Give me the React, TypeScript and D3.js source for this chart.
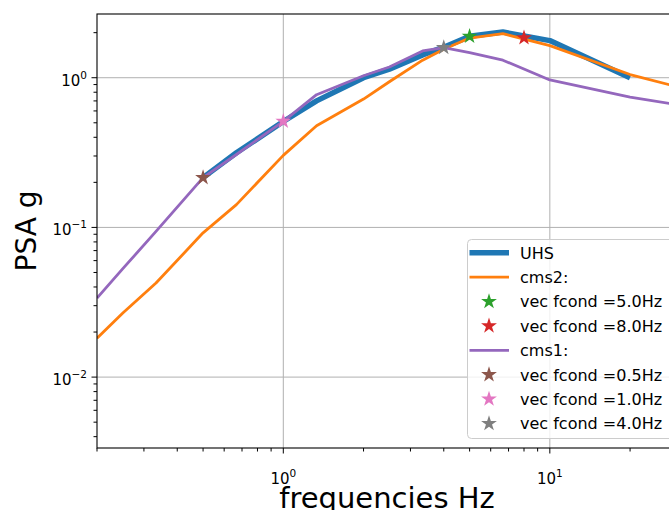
import React, { useRef, useEffect } from 'react';
import * as d3 from 'd3';

// periods / frequencies used by the spectra
const freqs = [0.2, 0.25, 0.333, 0.5, 0.667, 1, 1.333, 2, 2.5, 3.333, 4, 5, 6.667, 10, 20, 33.3];
const uhsFreqs = [0.5, 0.667, 1, 1.333, 2, 2.5, 3.333, 4, 5, 6.667, 10, 20];
const uhsValues = [0.215, 0.315, 0.51, 0.7, 1.0, 1.14, 1.42, 1.6, 1.89, 2.02, 1.77, 1.0];
const cms2Values = [0.0182, 0.0268, 0.0425, 0.092, 0.142, 0.303, 0.478, 0.72, 0.94, 1.31, 1.55, 1.84, 1.97, 1.64, 1.05, 0.83];
const cms1Values = [0.0337, 0.053, 0.094, 0.215, 0.307, 0.511, 0.77, 1.03, 1.18, 1.51, 1.59, 1.47, 1.31, 0.966, 0.743, 0.64];

// conditioning stars
const cms2Fcond = [5.0, 8.0];
const cms2Star = [1.89, 1.85];
const cms2StarColors = ['#2ca02c', '#d62728'];
const cms1Fcond = [0.5, 1.0, 4.0];
const cms1Star = [0.215, 0.511, 1.59];
const cms1StarColors = ['#8c564b', '#e377c2', '#7f7f7f'];

const xTicks = [1, 10];
const yTicks = [0.01, 0.1, 1];

const W = 669;
const H = 510;
const margin = { left: 97, top: 14, right: 677, bottom: 448 };
const font = 'DejaVu Sans, sans-serif';

function Chart() {
  const svgRef = useRef<SVGSVGElement>(null);

  useEffect(() => {
    const svg = d3.select(svgRef.current);
    svg.selectAll('*').remove();

    const x = d3.scaleLog().domain([0.2, 30]).range([margin.left, margin.right]);
    const y = d3.scaleLog().domain([0.00336, 2.665]).range([margin.bottom, margin.top]);

    const defs = svg.append('defs');
    defs.append('clipPath').attr('id', 'plot')
      .append('rect')
      .attr('x', margin.left).attr('y', margin.top)
      .attr('width', margin.right - margin.left).attr('height', margin.bottom - margin.top);

    // grid
    const grid = svg.append('g').attr('stroke', '#b0b0b0').attr('stroke-width', 1);
    xTicks.forEach(t => grid.append('line')
      .attr('x1', x(t)).attr('x2', x(t)).attr('y1', margin.top).attr('y2', margin.bottom));
    yTicks.forEach(t => grid.append('line')
      .attr('x1', margin.left).attr('x2', margin.right).attr('y1', y(t)).attr('y2', y(t)));

    const plot = svg.append('g').attr('clip-path', 'url(#plot)');
    const line = d3.line<[number, number]>().x(d => x(d[0])).y(d => y(d[1]));
    const star = d3.symbol().type(d3.symbolStar).size(78);

    plot.append('path')
      .attr('d', line(uhsFreqs.map((f, i) => [f, uhsValues[i]])))
      .attr('fill', 'none').attr('stroke', '#1f77b4').attr('stroke-width', 5.5)
      .attr('stroke-linejoin', 'round');
    plot.append('path')
      .attr('d', line(freqs.map((f, i) => [f, cms2Values[i]])))
      .attr('fill', 'none').attr('stroke', '#ff7f0e').attr('stroke-width', 2.8)
      .attr('stroke-linejoin', 'round');
    cms2Fcond.forEach((f, i) => plot.append('path')
      .attr('d', star()).attr('transform', `translate(${x(f)},${y(cms2Star[i])})`)
      .attr('fill', cms2StarColors[i]));
    plot.append('path')
      .attr('d', line(freqs.map((f, i) => [f, cms1Values[i]])))
      .attr('fill', 'none').attr('stroke', '#9467bd').attr('stroke-width', 2.8)
      .attr('stroke-linejoin', 'round');
    cms1Fcond.forEach((f, i) => plot.append('path')
      .attr('d', star()).attr('transform', `translate(${x(f)},${y(cms1Star[i])})`)
      .attr('fill', cms1StarColors[i]));

    // spines
    svg.append('rect')
      .attr('x', margin.left).attr('y', margin.top)
      .attr('width', margin.right - margin.left).attr('height', margin.bottom - margin.top)
      .attr('fill', 'none').attr('stroke', '#000').attr('stroke-width', 1.1);

    // x ticks
    const xMinor: number[] = [];
    for (let d = 0.1; d <= 10; d *= 10) for (let k = 2; k <= 9; k++) {
      const v = k * d;
      if (v >= 0.2 && v <= 30) xMinor.push(v);
    }
    const tk = svg.append('g').attr('stroke', '#000').attr('stroke-width', 1);
    xMinor.forEach(v => tk.append('line')
      .attr('x1', x(v)).attr('x2', x(v)).attr('y1', margin.bottom).attr('y2', margin.bottom + 3.5));
    xTicks.forEach(v => tk.append('line')
      .attr('x1', x(v)).attr('x2', x(v)).attr('y1', margin.bottom).attr('y2', margin.bottom + 5.5));

    const yMinor: number[] = [];
    for (let d = 0.001; d <= 1; d *= 10) for (let k = 2; k <= 9; k++) {
      const v = k * d;
      if (v >= 0.00336 && v <= 2.665) yMinor.push(v);
    }
    yMinor.forEach(v => tk.append('line')
      .attr('x1', margin.left - 3.5).attr('x2', margin.left).attr('y1', y(v)).attr('y2', y(v)));
    yTicks.forEach(v => tk.append('line')
      .attr('x1', margin.left - 5.5).attr('x2', margin.left).attr('y1', y(v)).attr('y2', y(v)));

    const exp = (v: number) => Math.round(Math.log10(v)).toString().replace('-', '\u2212');

    xTicks.forEach(v => {
      const t = svg.append('text')
        .attr('x', x(v)).attr('y', margin.bottom + 36)
        .attr('text-anchor', 'middle')
        .attr('font-family', font).attr('font-size', 15).attr('fill', '#000');
      t.append('tspan').text('10');
      t.append('tspan').attr('dy', -7).attr('font-size', 10.5).text(exp(v));
    });
    yTicks.forEach(v => {
      const t = svg.append('text')
        .attr('x', margin.left - 10).attr('y', y(v) + 8)
        .attr('text-anchor', 'end')
        .attr('font-family', font).attr('font-size', 15).attr('fill', '#000');
      t.append('tspan').text('10');
      t.append('tspan').attr('dy', -7).attr('font-size', 10.5).text(exp(v));
    });

    // axis labels
    svg.append('text')
      .attr('x', (margin.left + margin.right) / 2).attr('y', 508)
      .attr('text-anchor', 'middle')
      .attr('font-family', font).attr('font-size', 29).attr('fill', '#000')
      .text('frequencies Hz');
    svg.append('text')
      .attr('transform', `translate(36,${(margin.top + margin.bottom) / 2}) rotate(-90)`)
      .attr('text-anchor', 'middle')
      .attr('font-family', font).attr('font-size', 28).attr('fill', '#000')
      .text('PSA g');

    // legend
    const lg = svg.append('g');
    lg.append('rect')
      .attr('x', 467.5).attr('y', 239.5).attr('width', 230).attr('height', 199)
      .attr('rx', 4).attr('fill', 'rgba(255,255,255,0.8)').attr('stroke', '#cccccc').attr('stroke-width', 1);
    const items = [
      { label: 'UHS', kind: 'line', color: '#1f77b4', w: 5.5 },
      { label: 'cms2:', kind: 'line', color: '#ff7f0e', w: 2.8 },
      ...cms2Fcond.map((f, i) => ({ label: `vec fcond =${f.toFixed(1)}Hz`, kind: 'star', color: cms2StarColors[i], w: 0 })),
      { label: 'cms1:', kind: 'line', color: '#9467bd', w: 2.8 },
      ...cms1Fcond.map((f, i) => ({ label: `vec fcond =${f.toFixed(1)}Hz`, kind: 'star', color: cms1StarColors[i], w: 0 })),
    ];
    items.forEach((it, i) => {
      const cy = 252.7 + i * 24.4;
      if (it.kind === 'line') {
        lg.append('line').attr('x1', 469.5).attr('x2', 509).attr('y1', cy).attr('y2', cy)
          .attr('stroke', it.color).attr('stroke-width', it.w);
      } else {
        lg.append('path').attr('d', star()).attr('transform', `translate(489,${cy})`).attr('fill', it.color);
      }
      lg.append('text').attr('x', 520).attr('y', cy + 5.8)
        .attr('font-family', font).attr('font-size', 16).attr('fill', '#000')
        .text(it.label);
    });
  }, []);

  return <svg ref={svgRef} width={W} height={H} style={{ display: 'block' }} />;
}

export default function App() {
  return (
    <div style={{ position: 'absolute', left: 0, top: 0, width: W, height: H, overflow: 'hidden', background: '#fff' }}>
      <Chart />
    </div>
  );
}
